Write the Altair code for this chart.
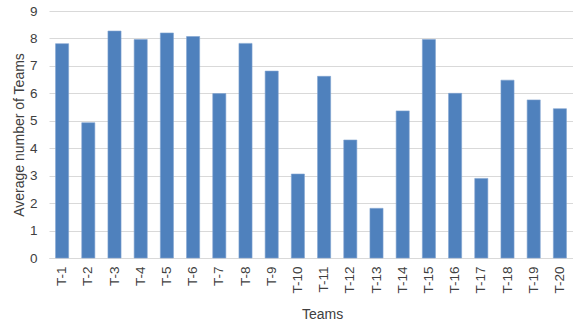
import altair as alt
import pandas as pd

teams = [f"T-{i}" for i in range(1, 21)]
values = [7.81, 4.93, 8.27, 7.96, 8.20, 8.07, 5.99, 7.82, 6.81, 3.06,
          6.62, 4.30, 1.81, 5.36, 7.96, 6.00, 2.90, 6.48, 5.76, 5.44]
y_ticks = list(range(0, 10))

df = pd.DataFrame({"team": teams, "value": values})

chart = alt.Chart(df).mark_bar(color="#4F81BD", stroke="#7FA3D0", strokeWidth=0.6).encode(
    x=alt.X("team:N", sort=teams,
            scale=alt.Scale(paddingInner=0.5, paddingOuter=0.25),
            axis=alt.Axis(title="Teams", labelAngle=270, labelAlign="right", labelBaseline="middle",
                          labelPadding=8, ticks=False, domainColor="#d9d9d9",
                          labelFont="Liberation Sans", labelFontSize=13.5, labelColor="#404040",
                          titleFont="Liberation Sans", titleFontSize=14, titleFontWeight="normal",
                          titleColor="#404040", titlePadding=14, titleX=273)),
    y=alt.Y("value:Q", scale=alt.Scale(domain=[0, 9], nice=False),
            axis=alt.Axis(title="Average number of Teams", values=y_ticks, ticks=False, domain=False,
                          gridColor="#d9d9d9", labelPadding=12,
                          labelFont="Liberation Sans", labelFontSize=13.5, labelColor="#404040",
                          titleFont="Liberation Sans", titleFontSize=14, titleFontWeight="normal",
                          titleColor="#404040", titlePadding=3)),
).properties(
    width=524, height=247,
    autosize=alt.AutoSizeParams(type="none"),
    padding={"left": 49, "top": 11, "right": 0, "bottom": 67},
).configure_view(stroke=None)

chart.save("out.html", embed_options={"renderer": "svg", "actions": False})
